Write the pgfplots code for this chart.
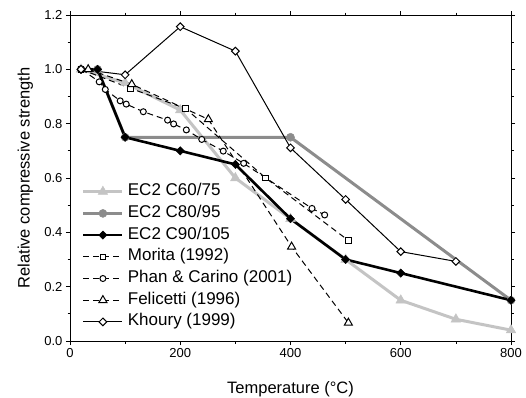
\documentclass[border=0pt]{standalone}
\usepackage{pgfplots}
\pgfplotsset{compat=1.18}
\usepackage{fontspec}
\setmainfont{Liberation Sans}
\definecolor{lgray}{RGB}{196,196,196}
\definecolor{mgray}{RGB}{140,140,140}
\begin{document}
\begin{tikzpicture}
\begin{axis}[
  scale only axis,
  width=441pt, height=326pt,
  xmin=0, xmax=800, ymin=0, ymax=1.2,
  xtick={0,200,...,800}, ytick={0,0.2,...,1.2},
  minor x tick num=1, minor y tick num=1,
  tick align=outside, major tick length=4pt, minor tick length=2.5pt,
  tick style={black, line width=0.7pt},
  axis line style={line width=0.9pt},
  /pgf/number format/assume math mode=true,
  yticklabel style={/pgf/number format/.cd, fixed, fixed zerofill, precision=1},
  xticklabel style={/pgf/number format/.cd, fixed, precision=0},
  ticklabel style={font=\fontsize{13}{15}\selectfont},
  label style={font=\fontsize{16.5}{19}\selectfont},
  xlabel={Temperature (°C)},
  ylabel={Relative compressive strength},
  xlabel style={at={(axis description cs:0.5,-0.1595)}, anchor=base},
  ylabel style={at={(axis description cs:-0.0918,0.5)}, anchor=base},
  legend cell align=left,
  legend style={at={(axis description cs:0.027,0.4856)}, anchor=north west,
    draw=none, fill=none, inner sep=0pt, outer sep=0pt,
    font=\fontsize{17}{19}\selectfont, row sep=3.7pt, column sep=3pt,
    nodes={text height=12pt, text depth=4pt, inner sep=1pt}},
  legend image code/.code={\draw[mark repeat=2, mark phase=2] plot coordinates {(0pt,0pt) (19.5pt,0pt) (39pt,0pt)};},
]
% EC2 C60/75
\addplot[lgray, line width=3pt, mark=triangle*, mark size=5.5pt, mark options={solid, fill=lgray, draw=lgray, line width=0.5pt}] coordinates {
 (20,1.0) (100,0.95) (200,0.85) (300,0.60) (400,0.45) (500,0.30) (600,0.15) (700,0.08) (800,0.04)};
\addlegendentry{EC2 C60/75}
% EC2 C80/95
\addplot[mgray, line width=3pt, mark=*, mark size=4pt, mark options={solid, fill=mgray, draw=mgray, line width=0.5pt}] coordinates {
 (20,1.0) (50,1.0) (100,0.75) (400,0.75) (800,0.15)};
\addlegendentry{EC2 C80/95}
% EC2 C90/105
\addplot[black, line width=2.6pt, mark=square*, mark size=2.9pt, mark options={solid, rotate=45, fill=black, line width=0.5pt}] coordinates {
 (20,1.0) (50,1.0) (100,0.75) (200,0.70) (300,0.65) (400,0.45) (500,0.30) (600,0.25) (800,0.15)};
\addlegendentry{EC2 C90/105}
% Morita
\addplot[black, line width=1pt, dash pattern=on 6pt off 4pt, mark=square*, mark size=2.8pt, mark options={solid, fill=white, line width=1pt}] coordinates {
 (20,1.0) (110,0.93) (210,0.855) (355,0.60) (505,0.37)};
\addlegendentry{Morita (1992)}
% Phan & Carino
\addplot[black, line width=1pt, dash pattern=on 6pt off 4pt, mark=*, mark size=3pt, mark options={solid, fill=white, line width=1pt}] coordinates {
 (21,1.0) (53,0.954) (64,0.926) (91,0.884) (102,0.872) (133,0.844) (177,0.813) (188,0.799) (211,0.777) (239,0.742) (278,0.699) (315,0.654) (439,0.488) (462,0.464)};
\addlegendentry{Phan \& Carino (2001)}
% Felicetti
\addplot[black, line width=1pt, dash pattern=on 6pt off 4pt, mark=triangle*, mark size=4.6pt, mark options={solid, fill=white, line width=1pt}] coordinates {
 (33,1.0) (112,0.945) (251,0.816) (402,0.347) (505,0.067)};
\addlegendentry{Felicetti (1996)}
% Khoury
\addplot[black, line width=1pt, mark=square*, mark size=2.7pt, mark options={solid, rotate=45, fill=white, line width=1pt}] coordinates {
 (20,1.0) (100,0.98) (200,1.157) (300,1.067) (400,0.711) (500,0.521) (600,0.329) (700,0.293)};
\addlegendentry{Khoury (1999)}
\end{axis}
\pgfresetboundingbox
\path ([shift={(-70pt,-56pt)}]current axis.south west) rectangle ([shift={(15pt,15pt)}]current axis.north east);
\end{tikzpicture}
\end{document}
